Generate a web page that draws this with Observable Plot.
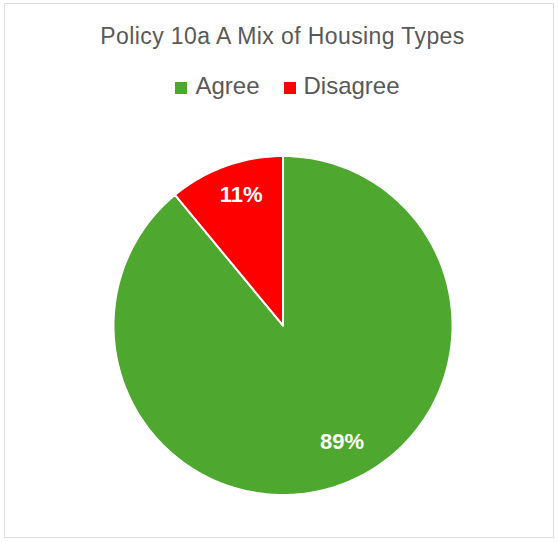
<!DOCTYPE html>
<html>
<head>
<meta charset="utf-8">
<script src="https://cdn.jsdelivr.net/npm/d3@7"></script>
<script src="https://cdn.jsdelivr.net/npm/@observablehq/plot@0.6"></script>
<style>
  body { margin: 0; background: #fff; }
  #wrap { position: relative; width: 559px; height: 542px; overflow: hidden; background: #fff; }
  #frame { position: absolute; left: 4px; top: 3px; width: 550px; height: 535px; border: 1px solid #dedede; box-sizing: border-box; }
  #chart { position: absolute; left: 0; top: 0; }
  #title { position: absolute; left: 0; width: 565px; top: 22px; text-align: center; font-family: "Liberation Sans", sans-serif; font-size: 23px; letter-spacing: 0.4px; color: #595959; line-height: 28px; white-space: nowrap; }
  #legend { position: absolute; left: 0; width: 575px; top: 72px; text-align: center; font-family: "Liberation Sans", sans-serif; font-size: 24px; color: #595959; line-height: 28px; white-space: nowrap; }
  .item { display: inline-block; margin: 0 12px; }
  .sw { display: inline-block; width: 12px; height: 12px; margin-right: 8px; vertical-align: 0px; }
</style>
</head>
<body>
<div id="wrap">
  <div id="frame"></div>
  <div id="chart"></div>
  <div id="title"></div>
  <div id="legend"></div>
</div>
<script>
const title = "Policy 10a A Mix of Housing Types";
const categories = ["Agree", "Disagree"];
const values = [89, 11];
const labels = ["89%", "11%"];
const colors = ["#4ea72e", "#ff0000"];

// Build slice geometry (Excel: start at top, clockwise)
const total = d3.sum(values);
let acc = 0;
const slices = categories.map((c, i) => {
  const a0 = acc / total * 2 * Math.PI;
  acc += values[i];
  const a1 = acc / total * 2 * Math.PI;
  const ring = [[0, 0]];
  const n = Math.max(4, Math.ceil((a1 - a0) / (Math.PI / 180)));
  for (let k = 0; k <= n; ++k) {
    const t = a0 + (a1 - a0) * k / n;
    ring.push([Math.sin(t), Math.cos(t)]);
  }
  ring.push([0, 0]);
  const mid = (a0 + a1) / 2;
  return {
    category: c, value: values[i], label: labels[i],
    type: "Feature",
    geometry: {type: "Polygon", coordinates: [ring]},
    mid
  };
});

const circle = {type: "Polygon", coordinates: [d3.range(0, 361, 2).map(d => [Math.sin(d * Math.PI / 180), Math.cos(d * Math.PI / 180)])]};

const labelR = 0.8;
const labelPts = slices.map(s => ({
  label: s.label, category: s.category,
  type: "Feature",
  geometry: {type: "Point", coordinates: [labelR * Math.sin(s.mid), labelR * Math.cos(s.mid)]}
}));

const chart = Plot.plot({
  width: 559,
  height: 542,
  marginLeft: 113,
  marginRight: 107,
  marginTop: 155,
  marginBottom: 47,
  style: {background: "transparent"},
  projection: {type: "reflect-y", domain: circle},
  color: {domain: categories, range: colors},
  marks: [
    Plot.geo(slices, {fill: "category", stroke: "white", strokeWidth: 2}),
    Plot.text(labelPts.filter(d => d.category === "Disagree"), Plot.centroid({text: "label", fill: "white", fontSize: 22, fontWeight: "bold", fontFamily: "Liberation Sans, sans-serif", dx: 4, dy: -3})),
    Plot.text(labelPts.filter(d => d.category === "Agree"), Plot.centroid({text: "label", fill: "white", fontSize: 22, fontWeight: "bold", fontFamily: "Liberation Sans, sans-serif", dx: 13, dy: -11}))
  ]
});
document.getElementById("chart").appendChild(chart);

document.getElementById("title").textContent = title;
const legend = document.getElementById("legend");
categories.forEach((c, i) => {
  const item = document.createElement("span");
  item.className = "item";
  const sw = document.createElement("span");
  sw.className = "sw";
  sw.style.background = colors[i];
  item.appendChild(sw);
  item.appendChild(document.createTextNode(c));
  legend.appendChild(item);
});
</script>
</body>
</html>
